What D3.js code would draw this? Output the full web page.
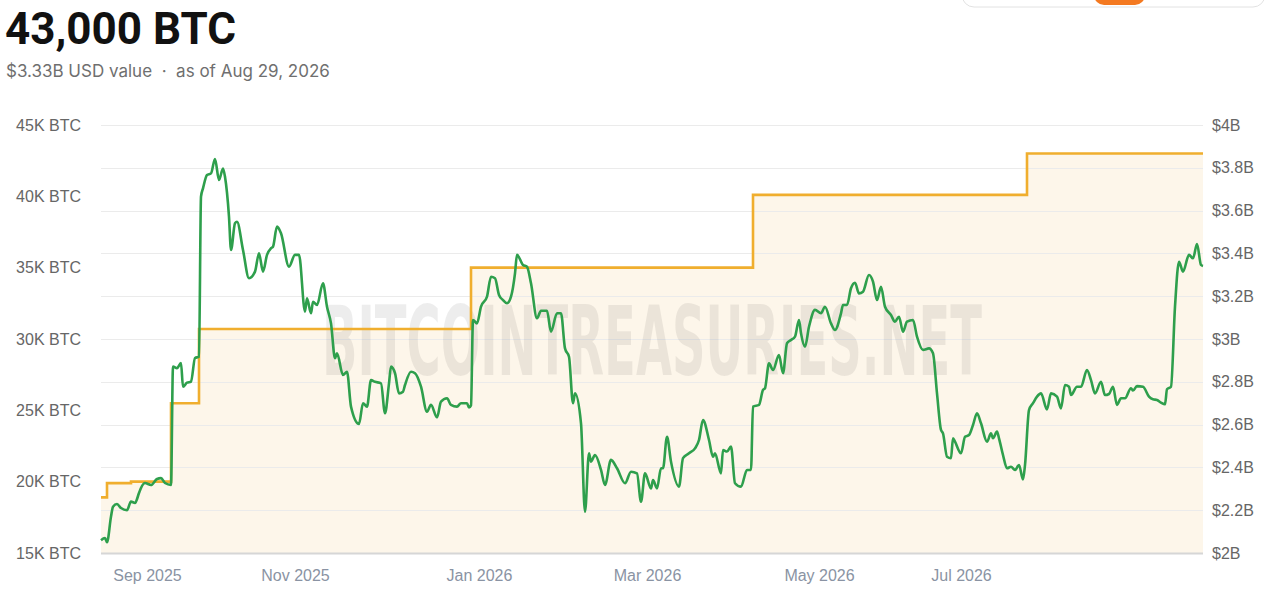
<!DOCTYPE html>
<html>
<head>
<meta charset="utf-8">
<script src="https://cdn.jsdelivr.net/npm/d3@7"></script>
<style>
  body { margin: 0; background: #fff; font-family: Arial, "Liberation Sans", sans-serif; }
</style>
</head>
<body>
<div id="canvas"></div>
<script>
// holdings (BTC, thousands) : [record index, value]
const holdingsBtc = [[0,18.9],[3,19.9],[15,20.0],[35,25.5],[49,30.7],[185,35.0],[326,40.1],[463,43.0],[551,43.0]];

// USD value of holdings ($B) : [record index, value]
const usdValue = [
  [0,2.06],[2,2.07],[3,2.05],[5,2.17],[6,2.216],[8,2.229],[10,2.21],[13,2.20],[15,2.24],[17,2.234],
  [19,2.28],[20,2.304],[22,2.327],[25,2.318],[28,2.346],[30,2.35],[32,2.327],[35,2.318],[36,2.871],[38,2.864],
  [40,2.888],[41,2.777],[43,2.796],[45,2.80],[47,2.911],[49,2.917],[50,3.665],[51,3.704],[53,3.766],[55,3.774],
  [57,3.841],[59,3.743],[61,3.797],[62,3.758],[64,3.571],[65,3.416],[67,3.541],[68,3.548],[71,3.416],[74,3.284],
  [77,3.315],[79,3.40],[81,3.315],[83,3.393],[85,3.424],[86,3.431],[88,3.525],[90,3.494],[94,3.338],[97,3.393],
  [99,3.393],[102,3.128],[103,3.19],[105,3.12],[106,3.174],[108,3.159],[111,3.26],[113,3.151],[115,3.073],[117,2.91],
  [118,2.933],[121,2.832],[123,2.847],[125,2.684],[129,2.603],[131,2.70],[133,2.684],[135,2.808],[137,2.80],[140,2.793],
  [142,2.653],[144,2.793],[145,2.871],[147,2.84],[149,2.746],[151,2.754],[152,2.785],[155,2.847],[157,2.84],[160,2.777],
  [163,2.66],[165,2.692],[168,2.634],[170,2.707],[173,2.723],[175,2.692],[178,2.684],[180,2.70],[183,2.70],[184,2.68],
  [185,2.69],[186,3.089],[188,3.073],[190,3.151],[193,3.198],[195,3.291],[197,3.284],[199,3.206],[201,3.182],[203,3.167],
  [205,3.198],[207,3.307],[208,3.393],[211,3.346],[213,3.338],[215,3.26],[218,3.097],[220,3.132],[223,3.132],[225,3.034],
  [228,3.12],[230,3.12],[232,2.956],[234,2.917],[236,2.70],[237,2.746],[240,2.606],[242,2.193],[244,2.466],[245,2.427],
  [247,2.458],[250,2.388],[252,2.318],[255,2.435],[258,2.396],[262,2.326],[265,2.38],[268,2.372],[270,2.24],[272,2.372],
  [275,2.302],[276,2.341],[278,2.302],[280,2.396],[281,2.396],[283,2.543],[285,2.427],[289,2.31],[291,2.443],[294,2.466],
  [297,2.489],[299,2.528],[301,2.621],[304,2.528],[306,2.45],[307,2.466],[310,2.372],[311,2.481],[313,2.474],[315,2.497],
  [317,2.326],[320,2.31],[323,2.388],[325,2.388],[326,2.684],[329,2.692],[331,2.762],[332,2.77],[334,2.886],[336,2.855],
  [339,2.925],[341,2.84],[343,2.98],[345,2.995],[347,3.011],[349,3.089],[350,3.027],[352,2.964],[354,3.057],[357,3.136],
  [360,3.12],[362,3.151],[365,3.073],[367,3.042],[370,3.12],[371,3.159],[373,3.159],[375,3.237],[377,3.263],[379,3.213],
  [381,3.221],[384,3.299],[386,3.268],[388,3.182],[390,3.244],[392,3.151],[395,3.112],[397,3.081],[399,3.104],[401,3.034],
  [403,3.081],[406,3.089],[408,3.011],[411,2.949],[414,2.956],[416,2.933],[418,2.746],[420,2.575],[421,2.559],[423,2.45],
  [425,2.443],[426,2.536],[427,2.52],[430,2.466],[432,2.543],[434,2.551],[436,2.598],[438,2.653],[440,2.606],[443,2.52],
  [445,2.559],[446,2.536],[448,2.567],[449,2.536],[451,2.458],[453,2.396],[455,2.403],[457,2.388],[459,2.411],[461,2.344],
  [462,2.411],[464,2.668],[466,2.70],[468,2.731],[470,2.746],[473,2.671],[475,2.746],[478,2.731],[480,2.676],[482,2.785],
  [484,2.777],[485,2.738],[488,2.777],[490,2.777],[493,2.855],[495,2.808],[497,2.746],[500,2.80],[502,2.738],[504,2.743],
  [506,2.777],[508,2.692],[510,2.723],[512,2.723],[515,2.77],[516,2.759],[518,2.78],[521,2.777],[524,2.731],[526,2.718],
  [528,2.715],[530,2.703],[532,2.695],[533,2.765],[535,2.777],[537,3.151],[539,3.361],[541,3.315],[544,3.393],[546,3.377],
  [548,3.444],[550,3.346],[551,3.341]
];

const monthLabels = ["Sep 2025", "Nov 2025", "Jan 2026", "Mar 2026", "May 2026", "Jul 2026"];
const monthIndex = [23, 97, 189, 273, 359, 430];
const btcTicks = [15, 20, 25, 30, 35, 40, 45];
const usdTicks = [2, 2.2, 2.4, 2.6, 2.8, 3, 3.2, 3.4, 3.6, 3.8, 4];

const w = 1266;
const h = 590;
const margin = { top: 125, bottom: 37, left: 101, right: 63 };

function render(){
  const width = w - (margin.left + margin.right);
  const height = h - (margin.top + margin.bottom);
  const bottom = margin.top + height;

  const svg = d3.select("#canvas")
    .append("svg")
    .attr("width", w)
    .attr("height", h);

  // header
  const top = svg.append("g");
  top.append("rect")
    .attr("x", 962).attr("y", -40).attr("width", 303).attr("height", 47).attr("rx", 12)
    .attr("fill", "#fff").attr("stroke", "#e2e2e2");
  top.append("rect")
    .attr("x", 1094).attr("y", -30).attr("width", 51).attr("height", 35).attr("rx", 10)
    .attr("fill", "#f47920");

  top.append("text")
    .attr("x", 5).attr("y", 44)
    .attr("font-family", "Roboto, Inter, sans-serif")
    .attr("font-weight", 700)
    .attr("font-size", 44)
    .attr("fill", "#111")
    .text("43,000 BTC");

  top.append("text")
    .attr("x", 6).attr("y", 77)
    .attr("font-family", "Inter, Roboto, sans-serif")
    .attr("font-size", 17)
    .attr("fill", "#6f6f6f")
    .attr("xml:space", "preserve")
    .text("$3.33B USD value  \u00b7  as of Aug 29, 2026");

  const x = d3.scaleLinear().domain([0, 551]).range([margin.left, margin.left + width]);
  const yBtc = d3.scaleLinear().domain([15, 45]).range([bottom, margin.top]);
  const yUsd = d3.scaleLinear().domain([2, 4]).range([bottom, margin.top]);

  // fill under holdings
  const area = d3.area()
    .curve(d3.curveStepAfter)
    .x(d => x(d[0]))
    .y0(bottom)
    .y1(d => yBtc(d[1]));
  svg.append("path")
    .datum(holdingsBtc)
    .attr("d", area)
    .attr("fill", "#fdf6ea");

  // gridlines
  svg.append("g")
    .selectAll("line")
    .data(usdTicks)
    .enter()
    .append("line")
    .attr("x1", margin.left)
    .attr("x2", margin.left + width)
    .attr("y1", d => Math.round(yUsd(d)) + 0.5)
    .attr("y2", d => Math.round(yUsd(d)) + 0.5)
    .attr("stroke", d => d === 2 ? "#d6d6d6" : "#ebebeb")
    .attr("stroke-width", d => d === 2 ? 2 : 1);

  // watermark, squeezed to its width with a scale so the box stays right
  const mark = svg.append("text")
    .attr("font-family", "'DejaVu Sans Condensed', 'DejaVu Sans', sans-serif")
    .attr("font-weight", 700)
    .attr("font-size", 96)
    .attr("fill", "#000")
    .attr("fill-opacity", 0.07)
    .text("BITCOINTREASURIES.NET");
  const natural = mark.node().getComputedTextLength();
  mark.attr("transform", "translate(322,375) scale(" + (660 / natural) + ",1)");

  // left axis
  const leftAxis = d3.axisLeft(yBtc)
    .tickValues(btcTicks)
    .tickSize(0)
    .tickPadding(0)
    .tickFormat(d => d + "K BTC");
  const gl = svg.append("g")
    .attr("transform", "translate(81,0)")
    .call(leftAxis);
  gl.select(".domain").remove();
  gl.selectAll("text")
    .attr("font-family", "Arial, 'Liberation Sans', sans-serif")
    .attr("font-size", 16)
    .attr("fill", "#666");

  // right axis
  const rightAxis = d3.axisRight(yUsd)
    .tickValues(usdTicks)
    .tickSize(0)
    .tickPadding(0)
    .tickFormat(d => "$" + (+d.toFixed(1)) + "B");
  const gr = svg.append("g")
    .attr("transform", "translate(1212,0)")
    .call(rightAxis);
  gr.select(".domain").remove();
  gr.selectAll("text")
    .attr("font-family", "Arial, 'Liberation Sans', sans-serif")
    .attr("font-size", 16)
    .attr("fill", "#666");

  // bottom axis
  const bottomAxis = d3.axisBottom(x)
    .tickValues(monthIndex)
    .tickSize(0)
    .tickPadding(0)
    .tickFormat((d, i) => monthLabels[i]);
  const gb = svg.append("g")
    .attr("transform", "translate(0," + (bottom + 17) + ")")
    .call(bottomAxis);
  gb.select(".domain").remove();
  gb.selectAll("text")
    .attr("font-family", "Arial, 'Liberation Sans', sans-serif")
    .attr("font-size", 16)
    .attr("fill", "#8a93a3");

  // holdings step line
  const stepLine = d3.line()
    .curve(d3.curveStepAfter)
    .x(d => x(d[0]))
    .y(d => yBtc(d[1]));
  svg.append("path")
    .datum(holdingsBtc)
    .attr("d", stepLine)
    .attr("fill", "none")
    .attr("stroke", "#f0ae2e")
    .attr("stroke-width", 2.6);

  // usd value line
  const valueLine = d3.line()
    .curve(d3.curveMonotoneX)
    .x(d => x(d[0]))
    .y(d => yUsd(d[1]));
  svg.append("path")
    .datum(usdValue)
    .attr("d", valueLine)
    .attr("fill", "none")
    .attr("stroke", "#2e9f4c")
    .attr("stroke-width", 2.6)
    .attr("stroke-linejoin", "round");
}

render();
</script>
</body>
</html>
